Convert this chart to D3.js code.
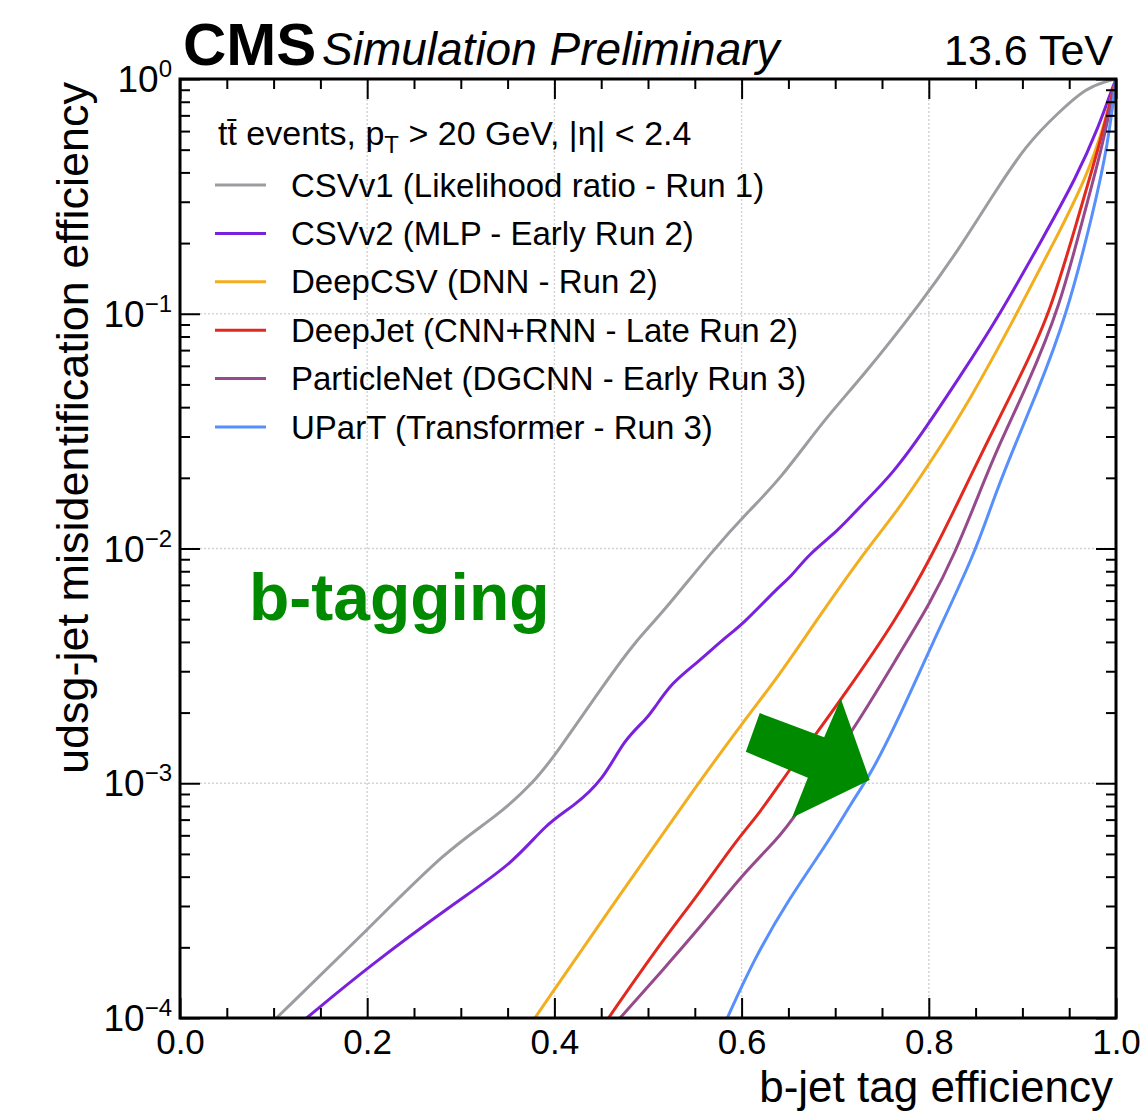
<!doctype html>
<html>
<head>
<meta charset="utf-8" />
<title>b-tagging ROC</title>
<script src="https://cdn.jsdelivr.net/npm/d3@7"></script>
<style>
html,body{margin:0;padding:0;background:#fff;}
svg{display:block;font-family:"Liberation Sans",Arial,Helvetica,sans-serif;}
</style>
</head>
<body>
<svg id="chart" width="1143" height="1112"></svg>
<script>
// taggers, oldest first
var names = ["CSVv1 (Likelihood ratio - Run 1)", "CSVv2 (MLP - Early Run 2)", "DeepCSV (DNN - Run 2)",
             "DeepJet (CNN+RNN - Late Run 2)", "ParticleNet (DGCNN - Early Run 3)", "UParT (Transformer - Run 3)"];
var colors = ["#9c9ca1", "#7a21dd", "#f3ae1e", "#e2291f", "#964a8b", "#5790fc"];

// b-jet efficiency vs udsg mistag
var csvv1Eff = [0.103, 0.2018, 0.2848, 0.338, 0.3773, 0.4022, 0.4544, 0.4876, 0.5136, 0.5695, 0.6087, 0.6407, 0.6905, 0.7265, 0.7941, 0.8329, 0.8685, 0.9041, 0.9397, 0.9682, 0.9895, 1.0];
var csvv1Mis = [1e-4, 2.41e-4, 5.2e-4, 7.21e-4, 1e-3, 1.34e-3, 2.69e-3, 4.07e-3, 5.21e-3, 9.86e-3, 1.46e-2, 1.96e-2, 3.64e-2, 5.22e-2, 0.1146, 0.1905, 0.32, 0.526, 0.728, 0.916, 0.977, 1.0];

var csvv2Eff = [0.1353, 0.2018, 0.2954, 0.3559, 0.3915, 0.4199, 0.452, 0.4742, 0.4979, 0.5058, 0.5255, 0.5531, 0.5808, 0.6005, 0.64, 0.6519, 0.6716, 0.7031, 0.7265, 0.7621, 0.7977, 0.8333, 0.8738, 0.9218, 0.9575, 0.9824, 0.9948, 1.0];
var csvv2Mis = [1e-4, 1.66e-4, 3.13e-4, 4.56e-4, 6.75e-4, 7.94e-4, 1.03e-3, 1.53e-3, 1.87e-3, 2.06e-3, 2.69e-3, 3.27e-3, 4.13e-3, 4.72e-3, 6.9e-3, 7.5e-3, 9.46e-3, 1.19e-2, 1.51e-2, 2.09e-2, 3.3e-2, 5.4e-2, 9.59e-2, 0.21, 0.379, 0.64, 0.887, 1.0];

var deepcsvEff = [0.3791, 0.4742, 0.5531, 0.6015, 0.6407, 0.68, 0.7349, 0.7621, 0.8013, 0.844, 0.8916, 0.9361, 0.9682, 0.9877, 1.0];
var deepcsvMis = [1e-4, 3.55e-4, 9.93e-4, 1.82e-3, 2.9e-3, 4.95e-3, 1.01e-2, 1.37e-2, 2.31e-2, 4.29e-2, 9.59e-2, 0.21, 0.379, 0.64, 1.0];

var deepjetEff = [0.4578, 0.5136, 0.5531, 0.5944, 0.6193, 0.6496, 0.68, 0.7083, 0.7653, 0.8048, 0.8359, 0.8582, 0.8939, 0.9283, 0.9613, 0.9826, 1.0];
var deepjetMis = [1e-4, 2.09e-4, 3.33e-4, 5.73e-4, 7.45e-4, 1.12e-3, 1.63e-3, 2.34e-3, 4.97e-3, 9.55e-3, 1.72e-2, 2.63e-2, 5.06e-2, 9.59e-2, 0.273, 0.526, 1.0];

var pnetEff = [0.4702, 0.5255, 0.5689, 0.6005, 0.6371, 0.6549, 0.7262, 0.7688, 0.8019, 0.828, 0.8524, 0.8725, 0.9046, 0.9402, 0.9666, 0.9861, 1.0];
var pnetMis = [1e-4, 1.77e-4, 2.82e-4, 4.06e-4, 5.73e-4, 6.98e-4, 1.86e-3, 3.58e-3, 5.89e-3, 9.55e-3, 1.66e-2, 2.63e-2, 4.89e-2, 0.107, 0.273, 0.526, 1.0];

var upartEff = [0.5847, 0.6124, 0.6479, 0.694, 0.719, 0.7368, 0.7688, 0.8019, 0.8494, 0.8675, 0.8868, 0.9153, 0.9466, 0.976, 0.9914, 1.0];
var upartMis = [1e-4, 1.75e-4, 3.11e-4, 5.73e-4, 8.49e-4, 1.07e-3, 1.92e-3, 3.8e-3, 9.55e-3, 1.56e-2, 2.46e-2, 4.58e-2, 9.59e-2, 0.273, 0.526, 1.0];

var xMajor = [0, 0.2, 0.4, 0.6, 0.8, 1.0];
var yMajor = [1e-4, 1e-3, 1e-2, 1e-1, 1];
var yLabels = ["\u22124", "\u22123", "\u22122", "\u22121", "0"];

var series = [
  [csvv1Eff, csvv1Mis], [csvv2Eff, csvv2Mis], [deepcsvEff, deepcsvMis],
  [deepjetEff, deepjetMis], [pnetEff, pnetMis], [upartEff, upartMis]
];

var svg = d3.select("#chart");
var x = d3.scaleLinear().domain([0, 1]).range([180, 1116]);
var y = d3.scaleLog().domain([1e-4, 1]).range([1018, 79]);

var xMinor = d3.range(0, 1.0001, 0.05).filter(function(v){ return Math.abs(v*5 - Math.round(v*5)) > 1e-6; });
var yMinor = [];
[1e-4, 1e-3, 1e-2, 1e-1].forEach(function(d){ for (var k = 2; k <= 9; k++) yMinor.push(d*k); });

// grid
var grid = svg.append("g").attr("stroke", "#d4d4d4").attr("stroke-width", 1.5).attr("stroke-dasharray", "2,2");
grid.selectAll(".gx").data(xMajor.slice(1, -1)).enter().append("line")
  .attr("x1", function(d){ return x(d); }).attr("x2", function(d){ return x(d); })
  .attr("y1", y(1)).attr("y2", y(1e-4));
grid.selectAll(".gy").data(yMajor.slice(1, -1)).enter().append("line")
  .attr("y1", function(d){ return y(d); }).attr("y2", function(d){ return y(d); })
  .attr("x1", x(0)).attr("x2", x(1));

// curves
svg.append("clipPath").attr("id", "plotclip").append("rect")
  .attr("x", x(0)).attr("y", y(1)).attr("width", x(1) - x(0)).attr("height", y(1e-4) - y(1));
var line = d3.line().x(function(d){ return x(d[0]); }).y(function(d){ return y(d[1]); }).curve(d3.curveBasis);
svg.append("g").attr("clip-path", "url(#plotclip)").selectAll("path").data(series).enter().append("path")
  .attr("d", function(s){ return line(d3.zip(s[0], s[1])); })
  .attr("fill", "none")
  .attr("stroke", function(s, i){ return colors[i]; })
  .attr("stroke-width", 3);

// axes, ticks inward on all four sides
function styleAxis(g) {
  g.select(".domain").remove();
  g.selectAll(".tick line").attr("stroke", "#000").attr("stroke-width", 2);
  g.selectAll("text").attr("fill", "#000").style("font-size", "35px").style("font-family", "inherit");
}
function ticks(axis, pos, vals, len, fmt) {
  var g = svg.append("g").attr("transform", pos)
    .call(axis.tickValues(vals).tickSize(-len).tickSizeOuter(0).tickPadding(11).tickFormat(fmt || function(){ return ""; }));
  styleAxis(g);
  return g;
}
ticks(d3.axisBottom(x), "translate(0," + y(1e-4) + ")", xMajor, 20, d3.format(".1f"));
ticks(d3.axisBottom(x), "translate(0," + y(1e-4) + ")", xMinor, 10);
ticks(d3.axisTop(x), "translate(0," + y(1) + ")", xMajor, 20);
ticks(d3.axisTop(x), "translate(0," + y(1) + ")", xMinor, 10);
ticks(d3.axisLeft(y), "translate(" + x(0) + ",0)", yMajor, 20);
ticks(d3.axisLeft(y), "translate(" + x(0) + ",0)", yMinor, 10);
ticks(d3.axisRight(y), "translate(" + x(1) + ",0)", yMajor, 20);
ticks(d3.axisRight(y), "translate(" + x(1) + ",0)", yMinor, 10);

// 10^n labels
var yl = svg.append("g").selectAll("text").data(yMajor).enter().append("text")
  .attr("x", 172).attr("y", function(d){ return y(d) + 13; })
  .attr("text-anchor", "end").style("font-size", "37px");
yl.append("tspan").text("10");
yl.append("tspan").attr("dy", -15).style("font-size", "24px").text(function(d, i){ return yLabels[i]; });

// frame
svg.append("rect").attr("x", x(0)).attr("y", y(1)).attr("width", x(1) - x(0)).attr("height", y(1e-4) - y(1))
  .attr("fill", "none").attr("stroke", "#000").attr("stroke-width", 3);

// axis titles
svg.append("text").attr("transform", "translate(88,82) rotate(-90)").attr("text-anchor", "end")
  .style("font-size", "45px").text("udsg-jet misidentification efficiency");
svg.append("text").attr("x", 1113).attr("y", 1102).attr("text-anchor", "end")
  .style("font-size", "44px").text("b-jet tag efficiency");

// header
svg.append("text").attr("x", 183).attr("y", 65).style("font-size", "60px").style("font-weight", "bold").text("CMS");
svg.append("text").attr("x", 322).attr("y", 65).style("font-size", "46px").style("font-style", "italic").text("Simulation Preliminary");
svg.append("text").attr("x", 1113).attr("y", 65).attr("text-anchor", "end").style("font-size", "43px").text("13.6 TeV");

// legend
var hdr = svg.append("text").attr("x", 218).attr("y", 145).style("font-size", "34px");
hdr.append("tspan").text("t\u0074\u0304 events, p");
hdr.append("tspan").attr("dy", 8).style("font-size", "24px").text("T");
hdr.append("tspan").attr("dy", -8).text(" > 20 GeV, |\u03b7| < 2.4");

var leg = svg.append("g").selectAll("g").data(names).enter().append("g")
  .attr("transform", function(d, i){ return "translate(0," + (185 + i*48.4) + ")"; });
leg.append("line").attr("x1", 215).attr("x2", 266).attr("y1", 0).attr("y2", 0)
  .attr("stroke", function(d, i){ return colors[i]; }).attr("stroke-width", 3);
leg.append("text").attr("x", 291).attr("dy", "0.35em").style("font-size", "33px").text(function(d){ return d; });

// annotation
svg.append("text").attr("x", 249).attr("y", 620).attr("fill", "#008a00")
  .style("font-size", "66px").style("font-weight", "bold").text("b-tagging");
var arrow = [[0.6194, -2.701], [0.6882, -2.804], [0.7060, -2.640], [0.7368, -2.986],
             [0.6538, -3.147], [0.6708, -2.977], [0.6045, -2.866]];
svg.append("polygon")
  .attr("points", arrow.map(function(p){ return x(p[0]) + "," + y(Math.pow(10, p[1])); }).join(" "))
  .attr("fill", "#008a00");
</script>
</body>
</html>
